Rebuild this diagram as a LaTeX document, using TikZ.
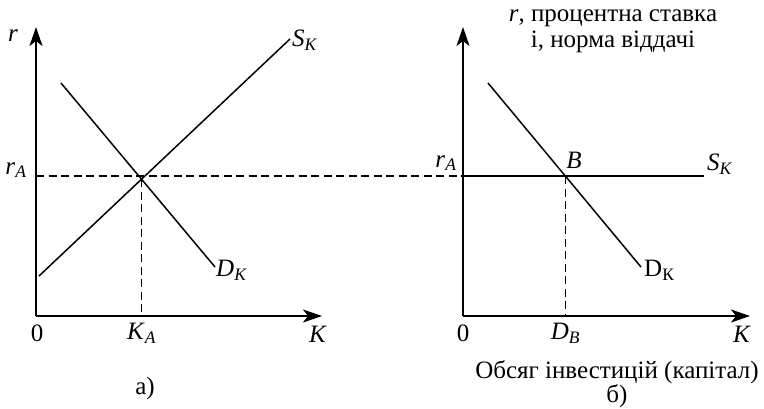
\documentclass[tikz,border=0pt]{standalone}
\usepackage{fontspec}
\setmainfont{Liberation Serif}
\usepackage{tikz}
\usetikzlibrary{arrows.meta,positioning}

\begin{document}
\begin{tikzpicture}[
    x=1pt, y=-1pt,
    >={Stealth[length=19pt, width=13pt, inset=5pt]},
    axis/.style={->, line width=2.1pt},
    curve/.style={line width=1.5pt},
    guide/.style={line width=1.4pt, dash pattern=on 8pt off 4.5pt},
    lbl/.style={font=\fontsize{25}{27}\selectfont, inner sep=1pt},
]
\useasboundingbox (0,0) rectangle (764,408);

% --- Left panel: axes ---
\coordinate (o1) at (36,316);
\coordinate (ytop1) at (36,27);
\coordinate (xend1) at (322,316);
\draw[axis] (o1) -- (ytop1);
\draw[axis] (o1) -- (xend1);

% --- Left panel: supply and demand ---
\coordinate (s1a) at (39,276);
\coordinate (s1b) at (290,39);
\coordinate (d1a) at (61,83);
\coordinate (d1b) at (215,267);
\draw[curve] (s1a) -- (s1b);
\draw[curve] (d1a) -- (d1b);

% --- Right panel: axes ---
\coordinate (o2) at (463,316);
\coordinate (ytop2) at (463,27);
\coordinate (xend2) at (750,316);
\draw[axis] (o2) -- (ytop2);
\draw[axis] (o2) -- (xend2);

% --- Right panel: flat supply and demand ---
\coordinate (ra1) at (36,176);
\coordinate (ra2) at (463,176);
\coordinate (s2b) at (704,176);
\coordinate (d2a) at (488,83);
\coordinate (d2b) at (641,267);
\draw[curve] (ra2) -- (s2b);
\draw[curve] (d2a) -- (d2b);

% --- Equilibrium points ---
\coordinate (A) at (intersection of s1a--s1b and d1a--d1b);
\coordinate (B) at (intersection of ra2--s2b and d2a--d2b);
\coordinate (ka) at (A |- o1);
\coordinate (db) at (B |- o2);

% --- Dashed guides ---
\draw[guide] (ra1) -- (ra2);
\draw[guide] (A) -- (ka);
\draw[guide] (B) -- (db);

% --- Left panel labels ---
\node[lbl] (r1) at (13,36) {\textit{r}};
\node[lbl] (rA1) at (16,170) {\textit{r}\textsubscript{\textit{A}}};
\node[lbl, anchor=west] (sk1) at (291,40) {\textit{S}\textsubscript{\textit{K}}};
\node[lbl, anchor=west] (dk1) at (215,270) {\textit{D}\textsubscript{\textit{K}}};
\node[lbl] (zero1) at (37,333) {0};
\node[lbl] (kA) at (ka |- zero1) {\textit{K}\textsubscript{\textit{A}}};
\node[lbl] (k1) at (318,334) {\textit{K}};
\node[lbl] (capa) at (145,388) {а)};

% --- Right panel labels ---
\node[lbl, align=center, inner sep=0pt, font=\fontsize{25}{26}\selectfont] (title2) at (613,31) {\textit{r}, процентна ставка\\і, норма віддачі};
\node[lbl] (rA2) at (446,163) {\textit{r}\textsubscript{\textit{A}}};
\node[lbl] (bl) at (574,160) {\textit{B}};
\node[lbl, anchor=west] (sk2) at (706,164) {\textit{S}\textsubscript{\textit{K}}};
\node[lbl, anchor=west] (dk2) at (643,270) {D\textsubscript{К}};
\node[lbl] (zero2) at (463,333) {0};
\node[lbl] (dB) at (db |- zero2) {\textit{D}\textsubscript{\textit{B}}};
\node[lbl] (k2) at (742,334) {\textit{K}};
\node[lbl, align=center, font=\fontsize{25}{23}\selectfont] (caption2) at (617,384) {Обсяг інвестицій (капітал)\\б)};

\end{tikzpicture}
\end{document}
